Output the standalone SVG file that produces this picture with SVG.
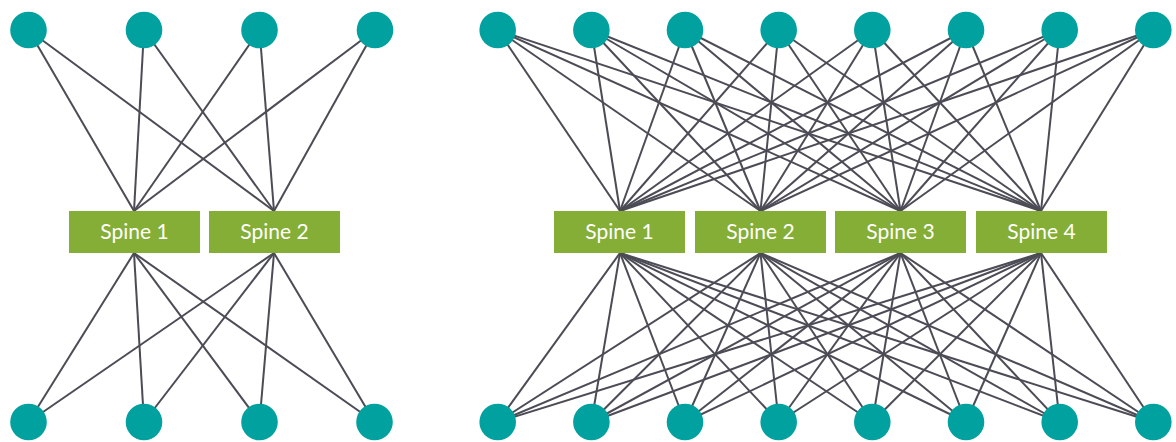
<svg xmlns="http://www.w3.org/2000/svg" width="1176" height="442" viewBox="0 0 1176 442">
  <style>
    .link { stroke: #4b4c55; stroke-width: 2; fill: none; }
    .leaf { fill: #00a19f; }
    .spine rect { fill: #84ae35; }
    .spine text { fill: #ffffff; font-family: Lato, "Open Sans", sans-serif; font-size: 21px; text-anchor: middle; }
  </style>
  <rect width="1176" height="442" fill="#ffffff"/>

  <!-- connectors: every leaf to every spine of its fabric -->
  <g id="connectors">
    <!-- fabric A (2 spines) -->
    <g id="links-a">
      <line class="link" x1="28.5" y1="30" x2="134" y2="211"/>
      <line class="link" x1="28.5" y1="30" x2="274" y2="211"/>
      <line class="link" x1="144" y1="30" x2="134" y2="211"/>
      <line class="link" x1="144" y1="30" x2="274" y2="211"/>
      <line class="link" x1="259.5" y1="30" x2="134" y2="211"/>
      <line class="link" x1="259.5" y1="30" x2="274" y2="211"/>
      <line class="link" x1="375" y1="30" x2="134" y2="211"/>
      <line class="link" x1="375" y1="30" x2="274" y2="211"/>
      <line class="link" x1="28.5" y1="422" x2="134" y2="253"/>
      <line class="link" x1="28.5" y1="422" x2="274" y2="253"/>
      <line class="link" x1="144" y1="422" x2="134" y2="253"/>
      <line class="link" x1="144" y1="422" x2="274" y2="253"/>
      <line class="link" x1="259.5" y1="422" x2="134" y2="253"/>
      <line class="link" x1="259.5" y1="422" x2="274" y2="253"/>
      <line class="link" x1="374.5" y1="422" x2="134" y2="253"/>
      <line class="link" x1="374.5" y1="422" x2="274" y2="253"/>
    </g>
    <!-- fabric B (4 spines) -->
    <g id="links-b">
      <line class="link" x1="497.7" y1="30" x2="620" y2="211"/>
      <line class="link" x1="497.7" y1="30" x2="760.5" y2="211"/>
      <line class="link" x1="497.7" y1="30" x2="900.5" y2="211"/>
      <line class="link" x1="497.7" y1="30" x2="1041" y2="211"/>
      <line class="link" x1="591.4" y1="30" x2="620" y2="211"/>
      <line class="link" x1="591.4" y1="30" x2="760.5" y2="211"/>
      <line class="link" x1="591.4" y1="30" x2="900.5" y2="211"/>
      <line class="link" x1="591.4" y1="30" x2="1041" y2="211"/>
      <line class="link" x1="685" y1="30" x2="620" y2="211"/>
      <line class="link" x1="685" y1="30" x2="760.5" y2="211"/>
      <line class="link" x1="685" y1="30" x2="900.5" y2="211"/>
      <line class="link" x1="685" y1="30" x2="1041" y2="211"/>
      <line class="link" x1="778.7" y1="30" x2="620" y2="211"/>
      <line class="link" x1="778.7" y1="30" x2="760.5" y2="211"/>
      <line class="link" x1="778.7" y1="30" x2="900.5" y2="211"/>
      <line class="link" x1="778.7" y1="30" x2="1041" y2="211"/>
      <line class="link" x1="872.3" y1="30" x2="620" y2="211"/>
      <line class="link" x1="872.3" y1="30" x2="760.5" y2="211"/>
      <line class="link" x1="872.3" y1="30" x2="900.5" y2="211"/>
      <line class="link" x1="872.3" y1="30" x2="1041" y2="211"/>
      <line class="link" x1="966" y1="30" x2="620" y2="211"/>
      <line class="link" x1="966" y1="30" x2="760.5" y2="211"/>
      <line class="link" x1="966" y1="30" x2="900.5" y2="211"/>
      <line class="link" x1="966" y1="30" x2="1041" y2="211"/>
      <line class="link" x1="1059.7" y1="30" x2="620" y2="211"/>
      <line class="link" x1="1059.7" y1="30" x2="760.5" y2="211"/>
      <line class="link" x1="1059.7" y1="30" x2="900.5" y2="211"/>
      <line class="link" x1="1059.7" y1="30" x2="1041" y2="211"/>
      <line class="link" x1="1153.3" y1="30" x2="620" y2="211"/>
      <line class="link" x1="1153.3" y1="30" x2="760.5" y2="211"/>
      <line class="link" x1="1153.3" y1="30" x2="900.5" y2="211"/>
      <line class="link" x1="1153.3" y1="30" x2="1041" y2="211"/>

      <line class="link" x1="497.7" y1="422" x2="620" y2="253"/>
      <line class="link" x1="497.7" y1="422" x2="760.5" y2="253"/>
      <line class="link" x1="497.7" y1="422" x2="900.5" y2="253"/>
      <line class="link" x1="497.7" y1="422" x2="1041" y2="253"/>
      <line class="link" x1="591.4" y1="422" x2="620" y2="253"/>
      <line class="link" x1="591.4" y1="422" x2="760.5" y2="253"/>
      <line class="link" x1="591.4" y1="422" x2="900.5" y2="253"/>
      <line class="link" x1="591.4" y1="422" x2="1041" y2="253"/>
      <line class="link" x1="685" y1="422" x2="620" y2="253"/>
      <line class="link" x1="685" y1="422" x2="760.5" y2="253"/>
      <line class="link" x1="685" y1="422" x2="900.5" y2="253"/>
      <line class="link" x1="685" y1="422" x2="1041" y2="253"/>
      <line class="link" x1="778.7" y1="422" x2="620" y2="253"/>
      <line class="link" x1="778.7" y1="422" x2="760.5" y2="253"/>
      <line class="link" x1="778.7" y1="422" x2="900.5" y2="253"/>
      <line class="link" x1="778.7" y1="422" x2="1041" y2="253"/>
      <line class="link" x1="872.3" y1="422" x2="620" y2="253"/>
      <line class="link" x1="872.3" y1="422" x2="760.5" y2="253"/>
      <line class="link" x1="872.3" y1="422" x2="900.5" y2="253"/>
      <line class="link" x1="872.3" y1="422" x2="1041" y2="253"/>
      <line class="link" x1="966" y1="422" x2="620" y2="253"/>
      <line class="link" x1="966" y1="422" x2="760.5" y2="253"/>
      <line class="link" x1="966" y1="422" x2="900.5" y2="253"/>
      <line class="link" x1="966" y1="422" x2="1041" y2="253"/>
      <line class="link" x1="1059.7" y1="422" x2="620" y2="253"/>
      <line class="link" x1="1059.7" y1="422" x2="760.5" y2="253"/>
      <line class="link" x1="1059.7" y1="422" x2="900.5" y2="253"/>
      <line class="link" x1="1059.7" y1="422" x2="1041" y2="253"/>
      <line class="link" x1="1153.3" y1="422" x2="620" y2="253"/>
      <line class="link" x1="1153.3" y1="422" x2="760.5" y2="253"/>
      <line class="link" x1="1153.3" y1="422" x2="900.5" y2="253"/>
      <line class="link" x1="1153.3" y1="422" x2="1041" y2="253"/>
    </g>
  </g>

  <!-- fabric A leaves -->
  <g id="a-top-1"><circle class="leaf" cx="28.5" cy="30" r="18.3"/></g>
  <g id="a-top-2"><circle class="leaf" cx="144" cy="30" r="18.3"/></g>
  <g id="a-top-3"><circle class="leaf" cx="259.5" cy="30" r="18.3"/></g>
  <g id="a-top-4"><circle class="leaf" cx="375" cy="30" r="18.3"/></g>
  <g id="a-bottom-1"><circle class="leaf" cx="28.5" cy="422" r="18.3"/></g>
  <g id="a-bottom-2"><circle class="leaf" cx="144" cy="422" r="18.3"/></g>
  <g id="a-bottom-3"><circle class="leaf" cx="259.5" cy="422" r="18.3"/></g>
  <g id="a-bottom-4"><circle class="leaf" cx="374.5" cy="422" r="18.3"/></g>

  <!-- fabric A spines -->
  <g id="a-spine-1" class="spine"><rect x="69" y="211" width="131" height="42"/><text x="134.5" y="239">Spine 1</text></g>
  <g id="a-spine-2" class="spine"><rect x="209" y="211" width="131" height="42"/><text x="274.5" y="239">Spine 2</text></g>

  <!-- fabric B leaves -->
  <g id="b-top-1"><circle class="leaf" cx="497.7" cy="30" r="18.3"/></g>
  <g id="b-top-2"><circle class="leaf" cx="591.4" cy="30" r="18.3"/></g>
  <g id="b-top-3"><circle class="leaf" cx="685" cy="30" r="18.3"/></g>
  <g id="b-top-4"><circle class="leaf" cx="778.7" cy="30" r="18.3"/></g>
  <g id="b-top-5"><circle class="leaf" cx="872.3" cy="30" r="18.3"/></g>
  <g id="b-top-6"><circle class="leaf" cx="966" cy="30" r="18.3"/></g>
  <g id="b-top-7"><circle class="leaf" cx="1059.7" cy="30" r="18.3"/></g>
  <g id="b-top-8"><circle class="leaf" cx="1153.3" cy="30" r="18.3"/></g>
  <g id="b-bottom-1"><circle class="leaf" cx="497.7" cy="422" r="18.3"/></g>
  <g id="b-bottom-2"><circle class="leaf" cx="591.4" cy="422" r="18.3"/></g>
  <g id="b-bottom-3"><circle class="leaf" cx="685" cy="422" r="18.3"/></g>
  <g id="b-bottom-4"><circle class="leaf" cx="778.7" cy="422" r="18.3"/></g>
  <g id="b-bottom-5"><circle class="leaf" cx="872.3" cy="422" r="18.3"/></g>
  <g id="b-bottom-6"><circle class="leaf" cx="966" cy="422" r="18.3"/></g>
  <g id="b-bottom-7"><circle class="leaf" cx="1059.7" cy="422" r="18.3"/></g>
  <g id="b-bottom-8"><circle class="leaf" cx="1153.3" cy="422" r="18.3"/></g>

  <!-- fabric B spines -->
  <g id="b-spine-1" class="spine"><rect x="554" y="211" width="131" height="42"/><text x="619.5" y="239">Spine 1</text></g>
  <g id="b-spine-2" class="spine"><rect x="695" y="211" width="131" height="42"/><text x="760.5" y="239">Spine 2</text></g>
  <g id="b-spine-3" class="spine"><rect x="835" y="211" width="131" height="42"/><text x="900.5" y="239">Spine 3</text></g>
  <g id="b-spine-4" class="spine"><rect x="976" y="211" width="131" height="42"/><text x="1041.5" y="239">Spine 4</text></g>
</svg>
